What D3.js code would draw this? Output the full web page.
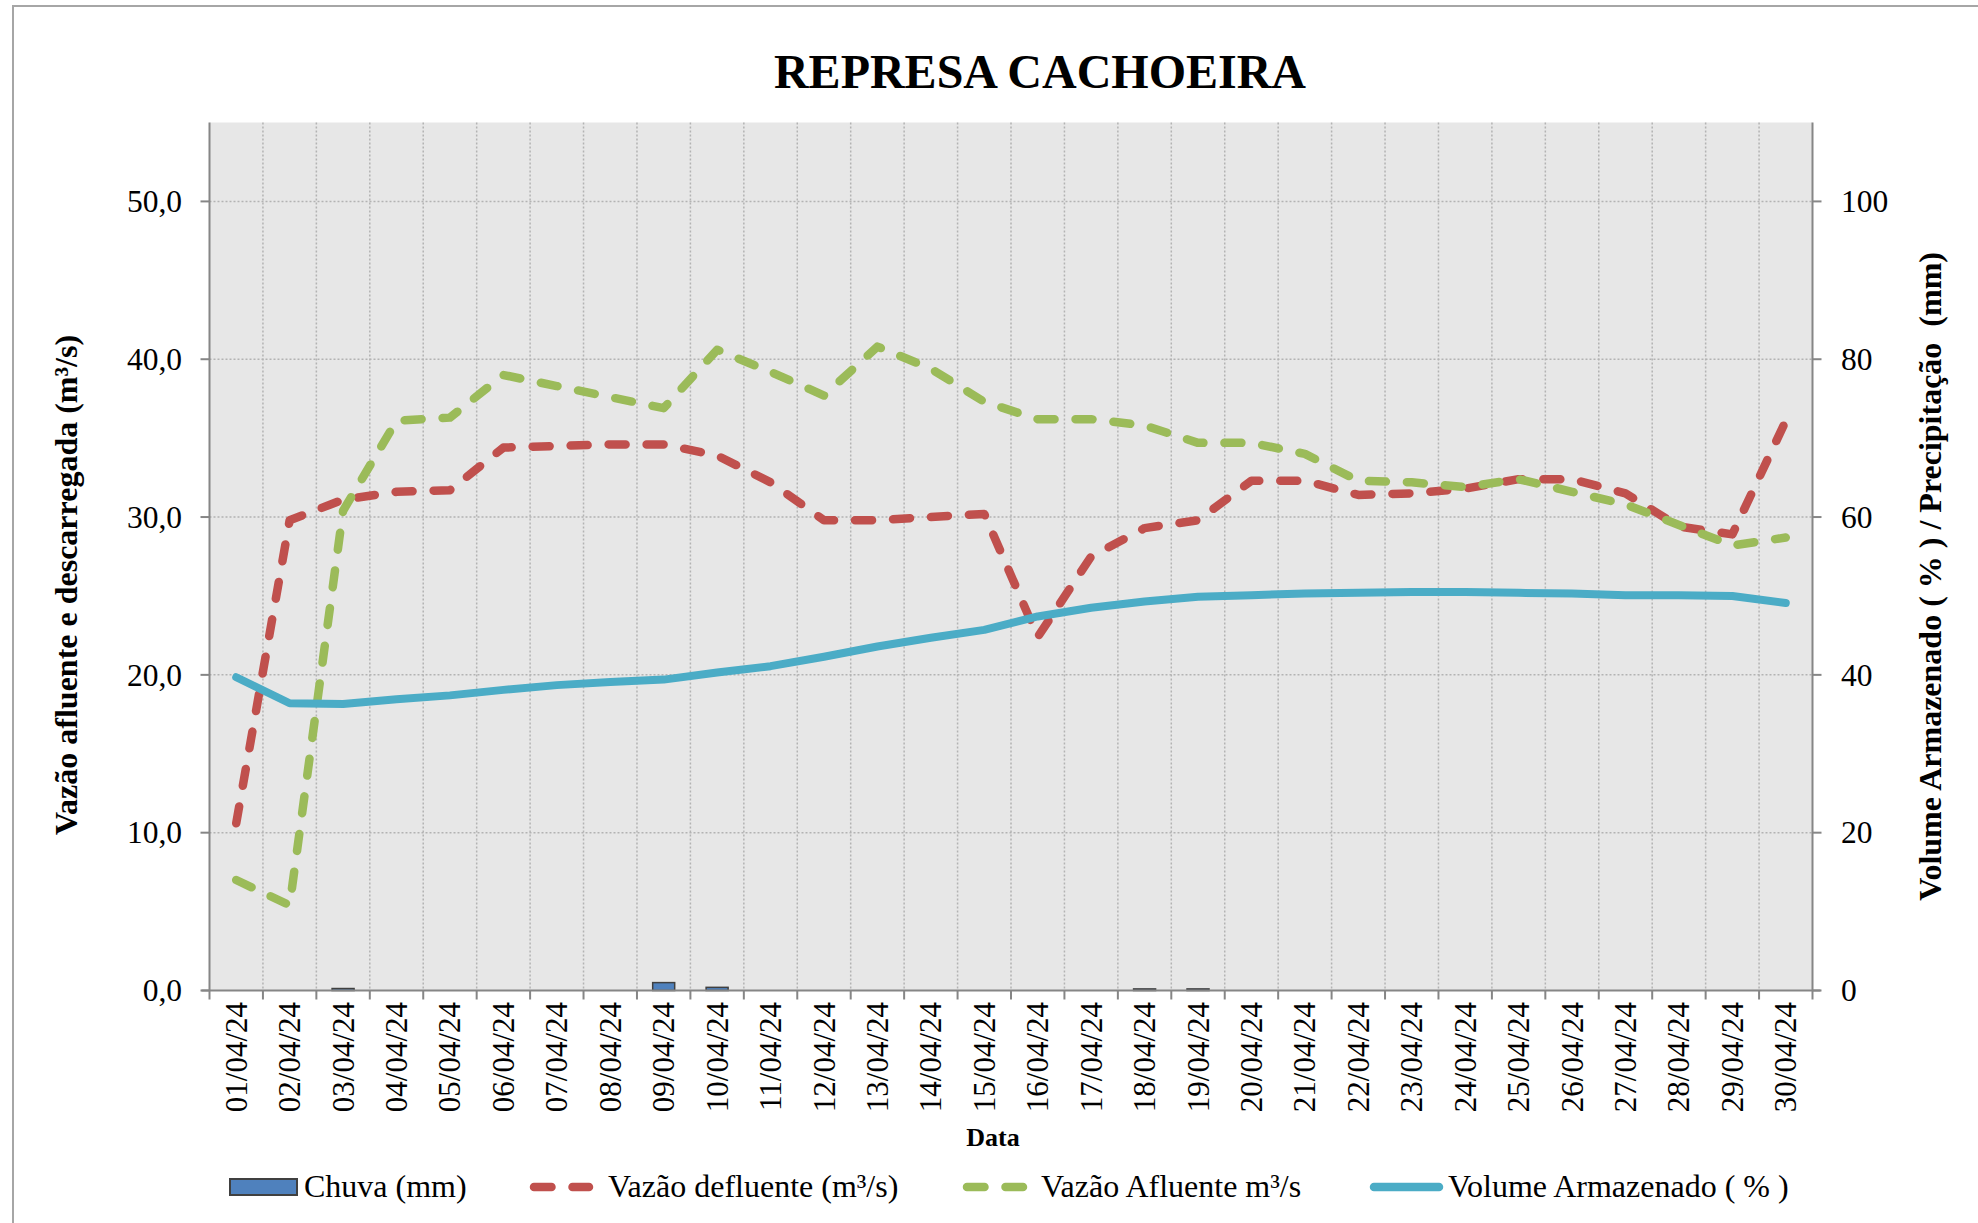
<!DOCTYPE html>
<html>
<head>
<meta charset="utf-8">
<script src="https://cdn.jsdelivr.net/npm/d3@7"></script>
<style>
  body { margin: 0; background: #fff; }
  svg { display: block; }
  text { font-family: "Liberation Serif", "Times New Roman", serif; fill: #000; }
</style>
</head>
<body>
<svg id="chart"></svg>
<script>
const width = 1978;
const height = 1223;

const dates = ["01/04/24", "02/04/24", "03/04/24", "04/04/24", "05/04/24", "06/04/24", "07/04/24", "08/04/24",
    "09/04/24", "10/04/24", "11/04/24", "12/04/24", "13/04/24", "14/04/24", "15/04/24", "16/04/24", "17/04/24",
    "18/04/24", "19/04/24", "20/04/24", "21/04/24", "22/04/24", "23/04/24", "24/04/24", "25/04/24", "26/04/24",
    "27/04/24", "28/04/24", "29/04/24", "30/04/24"];
// Chuva (mm) - right axis
const chuva = [0, 0, 0.25, 0, 0, 0, 0, 0, 1.0, 0.4, 0, 0, 0, 0, 0, 0, 0, 0.2, 0.2, 0, 0, 0, 0, 0, 0, 0, 0, 0, 0, 0];
// Vazão defluente (m³/s) - left axis
const defluente = [10.6, 29.8, 31.1, 31.6, 31.7, 34.4, 34.5, 34.6, 34.6, 33.9, 32.2, 29.8, 29.8, 30.0, 30.2,
    22.4, 27.5, 29.3, 29.8, 32.3, 32.3, 31.4, 31.5, 31.8, 32.4, 32.4, 31.5, 29.4, 28.9, 36.1];
// Vazão Afluente m³/s - left axis
const afluente = [7.0, 5.4, 30.4, 36.1, 36.3, 39.0, 38.3, 37.6, 36.9, 40.6, 39.2, 37.7, 40.8, 39.4, 37.3,
    36.2, 36.2, 35.8, 34.7, 34.7, 34.0, 32.3, 32.2, 31.9, 32.4, 31.6, 30.8, 29.5, 28.2, 28.7];
// Volume Armazenado (%) - right axis
const volume = [39.7, 36.4, 36.3, 36.9, 37.4, 38.1, 38.7, 39.1, 39.4, 40.3, 41.1, 42.3, 43.6, 44.7, 45.7,
    47.4, 48.5, 49.3, 49.9, 50.1, 50.3, 50.4, 50.5, 50.5, 50.4, 50.3, 50.1, 50.1, 50.0, 49.1];
const leftTicks = [0, 10, 20, 30, 40, 50];
const rightTicks = [0, 20, 40, 60, 80, 100];

const plot = { left: 209.5, right: 1812.5, top: 122.5, bottom: 990.5 };
const colors = { bar: "#4F81BD", red: "#C0504D", green: "#9BBB59", blue: "#4BACC6", axis: "#868686" };

const svg = d3.select("#chart").attr("width", width).attr("height", height);

const x = d3.scaleBand().domain(dates).range([plot.left, plot.right]).padding(0);
const yLeft = d3.scaleLinear().domain([0, 55]).range([plot.bottom, plot.top]);
const yRight = d3.scaleLinear().domain([0, 110]).range([plot.bottom, plot.top]);
const cx = d => x(d) + x.bandwidth() / 2;
const fmt = v => d3.format(".1f")(v).replace(".", ",");

// outer border
svg.append("rect")
    .attr("x", 13).attr("y", 6)
    .attr("width", 2100).attr("height", 1400)
    .attr("fill", "none").attr("stroke", "#a6a6a6").attr("stroke-width", 2);

svg.append("text")
    .attr("x", 1040).attr("y", 88)
    .attr("text-anchor", "middle")
    .attr("font-size", 48).attr("font-weight", "bold")
    .text("REPRESA CACHOEIRA");

// plot background
svg.append("rect")
    .attr("x", plot.left).attr("y", plot.top)
    .attr("width", plot.right - plot.left).attr("height", plot.bottom - plot.top)
    .attr("fill", "#e7e7e7");

// grid
const grid = svg.append("g").attr("stroke", "#b3b3b3").attr("stroke-width", 1.5).attr("stroke-dasharray", "2,2");
grid.selectAll("line.h").data(leftTicks.filter(t => t > 0)).enter()
    .append("line")
    .attr("x1", plot.left).attr("x2", plot.right)
    .attr("y1", d => yLeft(d)).attr("y2", d => yLeft(d));
grid.selectAll("line.v").data(dates.slice(1)).enter()
    .append("line")
    .attr("x1", d => x(d)).attr("x2", d => x(d))
    .attr("y1", plot.top).attr("y2", plot.bottom);

// rain bars
const barW = 22;
svg.append("g").selectAll("rect").data(dates.filter((d, i) => chuva[i] > 0)).enter()
    .append("rect")
    .attr("x", d => cx(d) - barW / 2)
    .attr("y", d => yRight(chuva[dates.indexOf(d)]))
    .attr("width", barW)
    .attr("height", d => plot.bottom - yRight(chuva[dates.indexOf(d)]))
    .attr("fill", colors.bar).attr("stroke", "#404040").attr("stroke-width", 1.5);

function drawLine(values, scale, color, dashed) {
    const line = d3.line().x((d, i) => cx(dates[i])).y(d => scale(d));
    svg.append("path")
        .datum(values)
        .attr("d", line)
        .attr("fill", "none")
        .attr("stroke", color)
        .attr("stroke-width", dashed ? 8.5 : 8)
        .attr("stroke-linecap", "round")
        .attr("stroke-linejoin", "round")
        .attr("stroke-dasharray", dashed ? "17,21" : null);
}
drawLine(defluente, yLeft, colors.red, true);
drawLine(afluente, yLeft, colors.green, true);
drawLine(volume, yRight, colors.blue, false);

// axes
const axisG = svg.append("g").attr("stroke", colors.axis).attr("stroke-width", 2);
axisG.append("line").attr("x1", plot.left).attr("x2", plot.left).attr("y1", plot.top).attr("y2", plot.bottom);
axisG.append("line").attr("x1", plot.right).attr("x2", plot.right).attr("y1", plot.top).attr("y2", plot.bottom);
axisG.append("line").attr("x1", plot.left - 8).attr("x2", plot.right + 8).attr("y1", plot.bottom).attr("y2", plot.bottom);
axisG.selectAll("line.lt").data(leftTicks).enter().append("line")
    .attr("x1", plot.left - 9).attr("x2", plot.left).attr("y1", d => yLeft(d)).attr("y2", d => yLeft(d));
axisG.selectAll("line.rt").data(rightTicks).enter().append("line")
    .attr("x1", plot.right).attr("x2", plot.right + 9).attr("y1", d => yRight(d)).attr("y2", d => yRight(d));
axisG.selectAll("line.xt").data(dates.concat(["end"])).enter().append("line")
    .attr("x1", d => d === "end" ? plot.right : x(d)).attr("x2", d => d === "end" ? plot.right : x(d))
    .attr("y1", plot.bottom).attr("y2", plot.bottom + 9);

svg.append("g").selectAll("text").data(leftTicks).enter().append("text")
    .attr("x", 182).attr("y", d => yLeft(d)).attr("dy", "0.34em")
    .attr("text-anchor", "end").attr("font-size", 31.5)
    .text(d => fmt(d));

svg.append("g").selectAll("text").data(rightTicks).enter().append("text")
    .attr("x", 1841).attr("y", d => yRight(d)).attr("dy", "0.34em")
    .attr("text-anchor", "start").attr("font-size", 31.5)
    .text(d => d);

svg.append("g").selectAll("text").data(dates).enter().append("text")
    .attr("transform", d => "translate(" + cx(d) + "," + 1002 + ") rotate(-90)")
    .attr("dy", "0.34em")
    .attr("text-anchor", "end").attr("font-size", 31)
    .text(d => d);

svg.append("text")
    .attr("x", 993).attr("y", 1146)
    .attr("text-anchor", "middle").attr("font-size", 26).attr("font-weight", "bold")
    .text("Data");

svg.append("text")
    .attr("transform", "translate(66,585) rotate(-90)")
    .attr("dominant-baseline", "central")
    .attr("text-anchor", "middle").attr("font-size", 32).attr("font-weight", "bold")
    .text("Vazão afluente e descarregada (m³/s)");

svg.append("text")
    .attr("transform", "translate(1930,252) rotate(-90)")
    .attr("dominant-baseline", "central")
    .attr("text-anchor", "end").attr("font-size", 32).attr("font-weight", "bold")
    .style("white-space", "pre")
    .text("Volume Armazenado ( % ) / Precipitação  (mm)");

// legend
const legendY = 1187;
const legend = svg.append("g");
legend.append("rect")
    .attr("x", 230).attr("y", 1179).attr("width", 67).attr("height", 16)
    .attr("fill", colors.bar).attr("stroke", "#404040").attr("stroke-width", 2);
const legendLines = [
    { x1: 530, x2: 593, color: colors.red, dashed: true },
    { x1: 963, x2: 1027, color: colors.green, dashed: true },
    { x1: 1370, x2: 1443, color: colors.blue, dashed: false }
];
legend.selectAll("line").data(legendLines).enter().append("line")
    .attr("x1", d => d.x1 + 4).attr("x2", d => d.x2 - 4)
    .attr("y1", legendY).attr("y2", legendY)
    .attr("stroke", d => d.color).attr("stroke-width", 8.5).attr("stroke-linecap", "round")
    .attr("stroke-dasharray", d => d.dashed ? "17.5,21" : null);
const legendTexts = [
    { x: 304, label: "Chuva (mm)" },
    { x: 608, label: "Vazão defluente (m³/s)" },
    { x: 1041, label: "Vazão Afluente m³/s" },
    { x: 1448, label: "Volume Armazenado ( % )" }
];
legend.selectAll("text").data(legendTexts).enter().append("text")
    .attr("x", d => d.x).attr("y", 1197)
    .attr("font-size", 32)
    .text(d => d.label);
</script>
</body>
</html>
